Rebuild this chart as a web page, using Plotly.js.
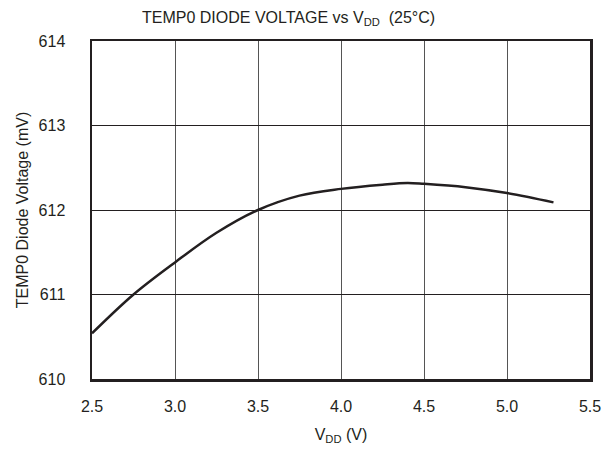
<!DOCTYPE html>
<html><head><meta charset="utf-8">
<script src="https://cdn.plot.ly/plotly-3.0.1.min.js"></script>
<style>html,body{margin:0;padding:0;background:#fff}</style>
</head><body>
<div id="chart" style="width:614px;height:457px"></div>
<script>
const vdd = [2.5, 2.75, 3.0, 3.25, 3.5, 3.75, 4.0, 4.25, 4.4, 4.5, 4.75, 5.0, 5.28];
const diodeMv = [610.54, 611.0, 611.38, 611.73, 612.0, 612.17, 612.25, 612.3, 612.32, 612.31, 612.27, 612.2, 612.09];
const xTicks = [2.5, 3.0, 3.5, 4.0, 4.5, 5.0, 5.5];
const yTicks = [610, 611, 612, 613, 614];

Plotly.newPlot('chart', [{
  x: vdd, y: diodeMv, mode: 'lines', type: 'scatter',
  line: {color: '#231f20', width: 2.5, shape: 'spline', smoothing: 1},
  hoverinfo: 'skip'
}], {
  width: 614, height: 457,
  margin: {l: 92, r: 24, t: 41, b: 78},
  paper_bgcolor: '#fff', plot_bgcolor: '#fff',
  font: {family: 'Liberation Sans, Arial, sans-serif', color: '#231f20'},
  showlegend: false,
  title: {text: 'TEMP0 DIODE VOLTAGE vs V<sub style="font-size:80%">DD</sub>  (25°C)', x: 0.47, xanchor: 'center', y: 0.962, yanchor: 'middle', font: {size: 16}},
  xaxis: {
    range: [2.5, 5.5], tickvals: xTicks, ticktext: xTicks.map(v => v.toFixed(1)),
    showgrid: true, gridcolor: '#555', gridwidth: 1,
    showline: true, linecolor: '#231f20', linewidth: 2.5, mirror: true,
    zeroline: false, ticks: '', tickfont: {size: 16}, ticklabelstandoff: 11,
    title: {text: 'V<sub style="font-size:80%">DD</sub> (V)', font: {size: 16}, standoff: 15}
  },
  yaxis: {
    range: [610, 614], tickvals: yTicks, ticktext: yTicks.map(String),
    showgrid: true, gridcolor: '#231f20', gridwidth: 1,
    showline: true, linecolor: '#231f20', linewidth: 2.5, mirror: true,
    zeroline: false, ticks: '', tickfont: {size: 16}, ticklabelstandoff: 21,
    title: {text: 'TEMP0 Diode Voltage (mV)', font: {size: 16}, standoff: 6}
  }
}, {staticPlot: true, displayModeBar: false});
</script>
</body></html>
